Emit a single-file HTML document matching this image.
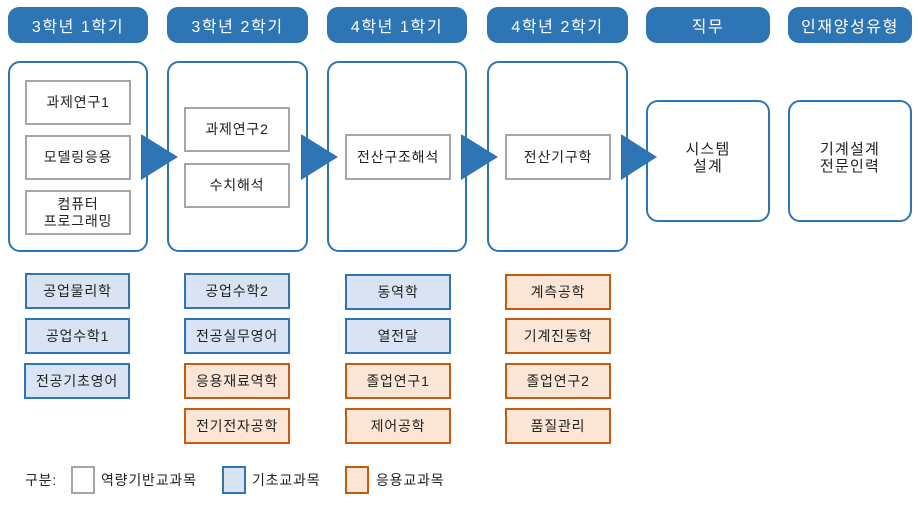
<!DOCTYPE html>
<html><head><meta charset="utf-8"><style>
*{box-sizing:border-box;margin:0;padding:0}
body{width:918px;height:507px;background:#fff;position:relative;overflow:hidden;font-family:"Liberation Sans","Noto Sans CJK KR","Malgun Gothic",sans-serif;color:#222}
.a{position:absolute;display:flex;align-items:center;justify-content:center;text-align:center}
.h{background:#2E75B6;color:#fff;border-radius:11px;font-size:16px;letter-spacing:1.6px;top:7px;height:36px}
.m{border:2px solid #2E75B6;border-radius:12px;background:#fff}
.g{border:2px solid #A6A6A6;background:#fff;font-size:14px;letter-spacing:0.8px;line-height:17px}
.b{border:2px solid #2E75B6;background:#DAE3F3;font-size:14px;letter-spacing:0.8px}
.o{border:2px solid #C55A11;background:#FBE5D6;font-size:14px;letter-spacing:0.8px}
.j{font-size:15px;letter-spacing:1.2px;line-height:17px;padding-bottom:7px}
.t{position:absolute;font-size:14px;letter-spacing:0.8px;line-height:16px}
svg{position:absolute;left:0;top:0}
</style></head><body>
<div class="a h" style="left:8px;width:140px">3학년 1학기</div>
<div class="a h" style="left:167px;width:141px">3학년 2학기</div>
<div class="a h" style="left:327px;width:140px">4학년 1학기</div>
<div class="a h" style="left:487px;width:141px">4학년 2학기</div>
<div class="a h" style="left:646px;width:124px">직무</div>
<div class="a h" style="left:788px;width:124px">인재양성유형</div>

<div class="a m" style="left:8px;top:61px;width:140px;height:191px"></div>
<div class="a m" style="left:167px;top:61px;width:141px;height:191px"></div>
<div class="a m" style="left:327px;top:61px;width:140px;height:191px"></div>
<div class="a m" style="left:487px;top:61px;width:141px;height:191px"></div>
<div class="a m j" style="left:646px;top:100px;width:124px;height:122px">시스템<br>설계</div>
<div class="a m j" style="left:788px;top:100px;width:124px;height:122px">기계설계<br>전문인력</div>

<div class="a g" style="left:25px;top:80px;width:106px;height:45px">과제연구1</div>
<div class="a g" style="left:25px;top:135px;width:106px;height:45px">모델링응용</div>
<div class="a g" style="left:25px;top:190px;width:106px;height:45px">컴퓨터<br>프로그래밍</div>
<div class="a g" style="left:184px;top:107px;width:106px;height:45px">과제연구2</div>
<div class="a g" style="left:184px;top:163px;width:106px;height:45px">수치해석</div>
<div class="a g" style="left:345px;top:134px;width:106px;height:46px">전산구조해석</div>
<div class="a g" style="left:505px;top:134px;width:106px;height:46px">전산기구학</div>

<svg width="918" height="507">
<polygon points="141,134 178,157 141,180" fill="#2E75B6"/>
<polygon points="301,134 338,157 301,180" fill="#2E75B6"/>
<polygon points="461,134 498,157 461,180" fill="#2E75B6"/>
<polygon points="621,134 657,157 621,180" fill="#2E75B6"/>
</svg>

<div class="a b" style="left:25px;top:273px;width:105px;height:36px">공업물리학</div>
<div class="a b" style="left:25px;top:318px;width:105px;height:36px">공업수학1</div>
<div class="a b" style="left:24px;top:363px;width:106px;height:36px">전공기초영어</div>

<div class="a b" style="left:184px;top:273px;width:106px;height:36px">공업수학2</div>
<div class="a b" style="left:184px;top:318px;width:106px;height:36px">전공실무영어</div>
<div class="a o" style="left:184px;top:363px;width:106px;height:36px">응용재료역학</div>
<div class="a o" style="left:184px;top:408px;width:106px;height:36px">전기전자공학</div>

<div class="a b" style="left:345px;top:274px;width:106px;height:36px">동역학</div>
<div class="a b" style="left:345px;top:318px;width:106px;height:36px">열전달</div>
<div class="a o" style="left:345px;top:363px;width:106px;height:36px">졸업연구1</div>
<div class="a o" style="left:345px;top:408px;width:106px;height:36px">제어공학</div>

<div class="a o" style="left:505px;top:274px;width:106px;height:36px">계측공학</div>
<div class="a o" style="left:505px;top:318px;width:106px;height:36px">기계진동학</div>
<div class="a o" style="left:505px;top:363px;width:106px;height:36px">졸업연구2</div>
<div class="a o" style="left:505px;top:408px;width:106px;height:36px">품질관리</div>

<div class="t" style="left:25px;top:472px">구분:</div>
<div class="a g" style="left:71px;top:466px;width:24px;height:28px"></div>
<div class="t" style="left:101px;top:472px">역량기반교과목</div>
<div class="a b" style="left:222px;top:466px;width:24px;height:28px"></div>
<div class="t" style="left:252px;top:472px">기초교과목</div>
<div class="a o" style="left:345px;top:466px;width:24px;height:28px"></div>
<div class="t" style="left:376px;top:472px">응용교과목</div>
</body></html>
